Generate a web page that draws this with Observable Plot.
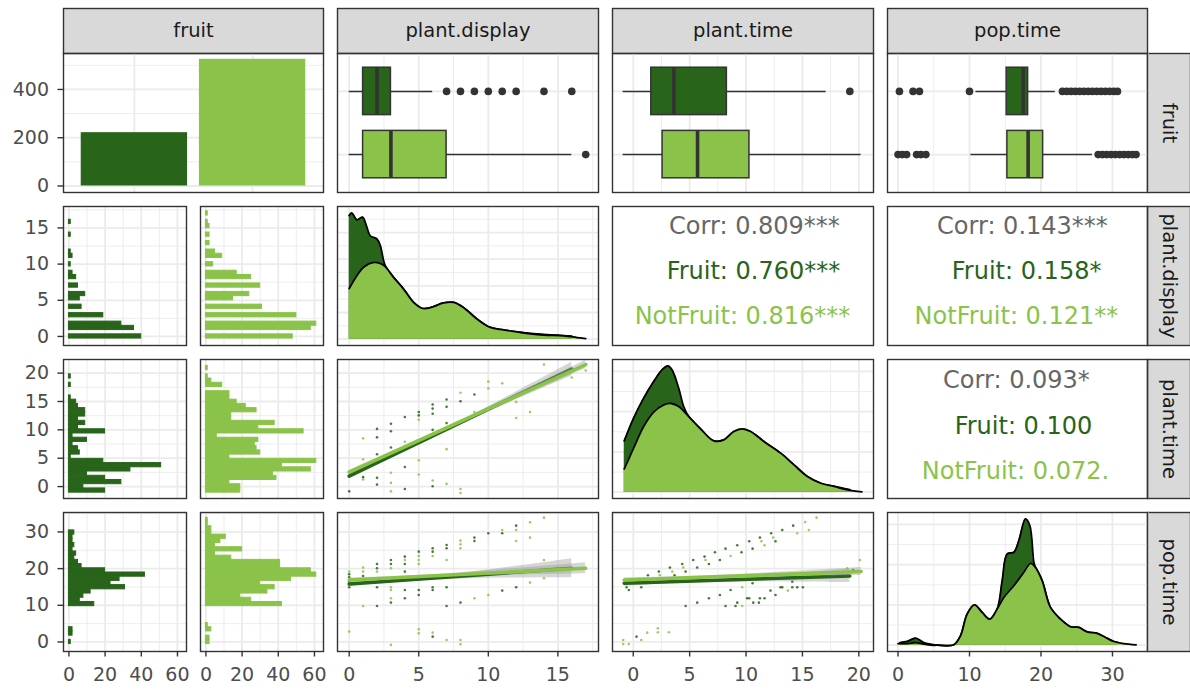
<!DOCTYPE html>
<html><head><meta charset="utf-8">
<script src="https://cdn.jsdelivr.net/npm/d3@7"></script>
<script src="https://cdn.jsdelivr.net/npm/@observablehq/plot@0.6"></script>
<style>
body{margin:0;background:#fff;}
#chart{position:relative;width:1190px;height:689px;background:#fff;overflow:hidden;}
#chart svg{position:absolute;max-width:none;}
</style></head><body><div id="chart"></div>
<script>
// ---------------- data ----------------
const variables = ["fruit", "plant.display", "plant.time", "pop.time"];
const groups = ["Fruit", "NotFruit"];
const fruitCounts = [221, 525];

// plant.display histogram: counts per integer value
const displayValues = [0,1,2,3,4,5,6,7,8,9,10,11,12,13,14,15,16,17];
const displayCountsFruit = [40,36,29,19,7,6,9,5,4,2,1,2,1,0,1,0,1,0];
const displayCountsNotFruit = [48,58,61,50,31,15,24,30,25,17,4,9,5,2,2,2,1,1];
// plant.time histogram: 30 bins
const timeBinStart = -1.07, timeBinWidth = 0.745;
const timeCountsFruit = [20,8,29,20,10,34,51,19,1,6,5,2,10,2,20,5,9,5,9,9,5,4,1,0,0,1,0,1,0,0];
const timeCountsNotFruit = [19,19,13,39,37,58,42,61,13,30,28,27,29,6,54,29,38,14,14,28,22,17,13,13,0,9,3,1,0,1];
// pop.time histogram: 30 bins
const popBinStart = -0.574, popBinWidth = 1.148;
const popCountsFruit = [1,0,2,2,0,0,0,0,0,14,6,8,12,31,23,28,42,20,7,5,3,4,2,3,2,2,3,0,0,0];
const popCountsNotFruit = [2,2,0,3,1,0,0,0,0,42,25,19,34,38,30,47,61,58,41,41,14,5,20,5,8,11,3,3,1,1];

// boxplot stats [lower whisker, q1, median, q3, upper whisker]
const boxDisplayFruit = [0,1,2,3,6];
const boxDisplayNotFruit = [0,1,3,7,16];
const outDisplayFruit = [7,8,9,10,11,12,14,16];
const outDisplayNotFruit = [17];
const boxTimeFruit = [-0.9,1.6,3.6,8.3,17.1];
const boxTimeNotFruit = [-0.9,2.6,5.7,10.3,20.2];
const outTimeFruit = [19.2];
const outTimeNotFruit = [];
const boxPopFruit = [10.9,15.2,17.5,18.2,22.0];
const boxPopNotFruit = [10.2,15.3,18.2,20.3,27.2];
const outPopFruit = [0.2,2.1,3.0,10.0,23.0,23.6,24.2,24.8,25.4,26.0,26.6,27.2,27.8,28.4,29.0,29.6,30.2,30.7];
const outPopNotFruit = [0,0.6,1.2,2.6,3.2,3.9,28,28.6,29.2,29.8,30.4,31,31.6,32.2,32.8,33.3];

// densities
const densDisplayXFruit = [0,0.19,0.55,0.96,1.27,1.51,1.99,2.23,2.59,3.19,3.91,4.63,5.23,5.83,6.79,7.51,8.23,9.18,10.14,11.1,12.06,13.02,13.98,15.0,16.0];
const densDisplayYFruit = [.232,.237,.224,.229,.21,.194,.188,.176,.138,.116,.094,.069,.058,.059,.068,.069,.059,.038,.022,.0175,.0137,.011,.009,.0075,.0055];
const densDisplayXNotFruit = [0,0.55,1.03,1.75,2.23,2.59,3.19,3.91,4.63,5.23,5.83,6.79,7.51,8.23,9.18,10.14,11.1,12.06,13.02,13.98,15.42,16.38,17.0];
const densDisplayYNotFruit = [.095,.119,.135,.144,.142,.136,.116,.094,.069,.058,.059,.068,.069,.059,.038,.022,.0175,.0137,.01,.0076,.0062,.0031,.0012];
const densTimeXFruit = [-0.8,0.03,0.92,1.81,2.55,3.08,3.44,4.03,4.47,4.92,5.96,7.14,8.03,8.92,9.66,10.4,11.58,13.07,14.25,15.44,16.62,17.81,19.2];
const densTimeYFruit = [.0637,.092,.1168,.1375,.152,.157,.152,.1292,.1064,.094,.0787,.0637,.065,.0754,.0787,.0754,.063,.0485,.0339,.0195,.0111,.0071,.0031];
const densTimeXNotFruit = [-0.8,0.03,0.92,1.81,2.70,3.38,4.03,4.92,5.96,7.14,8.03,8.92,9.66,10.4,11.58,13.07,14.25,15.44,16.62,17.81,18.99,20.27];
const densTimeYNotFruit = [.029,.0546,.0816,.0994,.1085,.1102,.1064,.094,.0787,.0637,.065,.0754,.0787,.0754,.063,.0485,.0339,.0195,.0111,.0071,.0028,.0003];
const densPopXFruit = [0.26,1.28,2.45,3.61,4.55,5.48,7.81,8.74,9.67,10.7,11.77,12.84,13.87,14.57,15.27,16.2,16.9,17.83,18.44,19.0,19.23,20.16,21.33,22.73,24.13,25.29,26.46,27.86,29.02,30.19,30.8];
const densPopYFruit = [.0033,.0046,.0088,.0033,.0013,0,.0005,.0116,.0386,.0502,.0407,.0323,.0449,.0802,.1134,.1154,.13,.157,.1487,.103,.0967,.0802,.0469,.0323,.0229,.022,.0166,.0146,.0096,.0046,.0031];
const densPopXNotFruit = [0,1.28,2.45,3.61,4.55,5.48,7.81,8.74,9.67,10.7,11.77,12.84,13.87,14.8,16.2,17.6,18.53,19.23,20.16,21.33,22.73,24.13,25.29,26.46,27.86,29.02,30.19,31.58,33.31];
const densPopYNotFruit = [.002,.002,.0033,.0013,0,0,.0005,.0116,.0386,.0502,.0407,.0323,.0449,.0593,.0739,.0906,.1017,.0967,.0802,.0469,.0323,.0229,.022,.0166,.0146,.0096,.0046,.002,.0005];

// scatter points [x, y, group index]
const scatterDisplayTime = [[0,-0.84,0],[1,1.66,0],[1,1.24,1],[1,4.82,1],[1,8.5,1],[2,10.17,0],[2,8.68,0],[2,5.71,0],[2,1.54,0],[2,0.35,0],[3,11.07,0],[3,9.76,0],[3,6.9,0],[3,2.43,1],[3,0.65,1],[3,-0.84,1],[4,12.26,0],[4,7.91,1],[4,3.45,0],[4,-0.42,0],[5,13.15,0],[5,12.55,0],[5,11.78,1],[5,4.64,1],[5,2.14,1],[6,14.46,0],[6,13.75,0],[6,12.85,0],[6,9.99,0],[6,1.06,1],[6,0.05,0],[7,15.35,0],[7,14.05,0],[7,11.19,0],[7,6.6,1],[7,0.47,1],[8,16.54,1],[8,15.05,0],[8,-0.42,1],[8,-1.14,1],[9,16.24,0],[9,13.15,1],[10,18.5,1],[10,17.31,1],[11,18.2,1],[12,14.93,1],[12,12.08,1],[13,13.15,1],[14,21.5,1],[16,19.22,1],[17,20.47,1]];
const scatterDisplayPop = [[0,19.18,1],[0,18.45,0],[0,17.64,0],[0,16.45,0],[0,14.9,0],[0,2.82,1],[1,20.27,1],[1,19.18,1],[1,18,0],[1,9.81,1],[2,21.27,0],[2,20.09,0],[2,19.18,1],[2,14.9,0],[2,9.81,0],[3,22.36,0],[3,21.27,0],[3,20.09,1],[3,14.9,1],[3,14.18,1],[3,11.9,1],[3,10.73,0],[3,-0.8,1],[4,23.27,0],[4,22.36,1],[4,21.27,0],[4,19.18,0],[4,14.18,0],[4,11.9,0],[5,24.63,0],[5,23.45,1],[5,22.36,1],[5,21.27,1],[5,14.18,0],[5,12.8,0],[5,3.46,1],[5,2.36,1],[6,25.54,0],[6,24.63,0],[6,23.45,1],[6,14.9,0],[6,14.18,0],[6,2.55,1],[6,1.45,0],[7,26.45,0],[7,25.54,0],[7,22.36,1],[7,14.9,0],[7,9.81,0],[7,0.54,1],[8,27.63,1],[8,26.63,1],[8,25.54,1],[8,10.73,0],[8,0.54,1],[8,-0.64,1],[9,28.45,0],[9,27.54,0],[9,11.9,1],[10,29.63,0],[10,12.8,1],[11,30.54,1],[11,29.63,0],[11,14,0],[12,31.72,0],[12,30.54,1],[12,27.54,1],[12,14.9,0],[13,32.63,1],[13,28.45,1],[13,16.18,1],[14,33.9,1],[14,22.36,1],[14,17.36,1]];
const scatterTimePop = [[-0.89,0.54,1],[-0.89,-0.55,1],[-0.39,-0.55,1],[-0.59,14.9,0],[-0.39,14.18,0],[0.71,14.9,0],[0.29,1.45,0],[0.71,0.54,1],[1.24,2.54,1],[2.18,3.72,1],[2.18,2.63,1],[3.16,2.63,1],[1.3,18.18,0],[2.27,19.18,0],[2.36,18.18,1],[3.25,20.27,0],[3.46,19.18,1],[3.66,18.18,0],[4.34,21.27,0],[4.43,20.27,1],[4.64,19.18,0],[4.64,9.81,0],[5.32,22.36,0],[5.67,20.27,0],[5.67,10.72,0],[6.32,23.27,0],[6.41,22.36,1],[6.71,11.9,0],[6.71,21.27,0],[7.24,24.45,0],[7.68,22.36,0],[7.68,12.81,0],[8.18,25.45,0],[8.18,9.81,0],[8.63,23.45,1],[8.63,14.18,0],[9.22,26.36,0],[9.22,10.72,0],[9.07,9.81,0],[9.6,24.45,0],[9.66,9.81,1],[9.66,14.9,1],[10.1,11.9,0],[10.28,27.45,0],[10.28,11.9,0],[10.58,25.45,0],[10.58,16.0,0],[10.64,10.72,0],[11.14,10.72,0],[11.23,28.45,0],[11.37,27.45,1],[11.23,11.9,0],[11.64,26.36,1],[11.64,11.9,0],[12.17,14.0,0],[12.23,29.63,0],[12.41,28.45,1],[12.61,27.45,0],[12.61,12.81,0],[13.21,30.54,0],[13.06,14.9,0],[13.21,14.9,0],[13.71,14.0,1],[14.1,14.9,0],[14.18,31.72,0],[14.1,16.45,0],[14.54,29.63,1],[14.54,14.9,0],[15.04,14.9,0],[15.24,32.72,1],[15.57,30.54,1],[16.25,33.9,1],[20.09,22.36,1],[18.97,20.09,1],[19.5,19.63,0]];

// linear fits: [x0, y0, x1, y1]; confidence half-widths at sample x
const fitDisplayTimeFruit = [0,1.84,16,20.7];
const fitDisplayTimeNotFruit = [0,2.55,17,21.5];
const bandDisplayTimeXFruit = [0,4,8,12,16], bandDisplayTimeHFruit = [0.45,0.25,0.3,0.7,1.2];
const bandDisplayTimeXNotFruit = [0,4,8,12,17], bandDisplayTimeHNotFruit = [0.3,0.18,0.2,0.4,0.75];
const fitDisplayPopFruit = [0,15.8,16,20.1];
const fitDisplayPopNotFruit = [0,16.9,17,20.1];
const bandDisplayPopXFruit = [0,4,8,12,16], bandDisplayPopHFruit = [0.7,0.45,0.8,1.6,2.6];
const bandDisplayPopXNotFruit = [0,4,8,12,17], bandDisplayPopHNotFruit = [0.5,0.3,0.5,0.9,1.5];
const fitTimePopFruit = [-0.8,16.0,19.2,18.0];
const fitTimePopNotFruit = [-0.8,16.9,20.2,19.2];
const bandTimePopXFruit = [-0.8,4,9,14,19.2], bandTimePopHFruit = [0.9,0.5,0.6,1.1,1.8];
const bandTimePopXNotFruit = [-0.8,4,9,14,20.2], bandTimePopHNotFruit = [0.6,0.35,0.4,0.7,1.1];

// correlation texts
const corrDisplayTime = ["Corr: 0.809***", "Fruit: 0.760***", "NotFruit: 0.816***"];
const corrDisplayPop = ["Corr: 0.143***", "Fruit: 0.158*", "NotFruit: 0.121**"];
const corrTimePop = ["Corr: 0.093*", "Fruit: 0.100", "NotFruit: 0.072."];

// tick labels
const ticksCount = [0,200,400];
const ticksHist = [0,20,40,60];
const ticksDisplay = [0,5,10,15];
const ticksTime = [0,5,10,15,20];
const ticksPop = [0,10,20,30];

// ---------------- styling / layout ----------------
const FONT = "'DejaVu Sans', 'Liberation Sans', sans-serif";
const COL = ["#28641a", "#8bc34a"];
const GRID = "#ebebeb", BORDER = "#333333", AXT = "#4d4d4d";
const colX = [[63,323],[337,598],[612,873],[887,1147]];
const rowY = [[53,192],[206,345],[359,498],[512,651]];
const subX = [[63,186],[200,323]];
const chart = document.getElementById("chart");

const dom = {
  count: [-27, 549], hist: [-3, 65], cat: [0.4, 2.6],
  display: [-0.84, 17.92], time: [-1.84, 21.3], pop: [-1.47, 34.9],
  rowDisplay: [-1.25, 17.96], rowTime: [-2.1, 22.4], rowPop: [-2.6, 35.3]
};
const gridSpec = {
  count: [[0,200,400],[100,300,500]],
  hist: [[0,20,40,60],[10,30,50]],
  display: [[0,5,10,15],[2.5,7.5,12.5,17.5]],
  time: [[0,5,10,15,20],[2.5,7.5,12.5,17.5]],
  pop: [[0,10,20,30],[5,15,25,35]],
  cat: [[1,2],[]],
  dens1: [[0,0.05,0.1,0.15,0.2],[0.025,0.075,0.125,0.175,0.225]],
  dens2: [[0,0.05,0.1,0.15],[0.025,0.075,0.125]]
};

function draw({x0, x1, y0, y1, xd, yd, yrev = false, ml = 0, mb = 0, marks}) {
  const svg = Plot.plot({
    width: x1 - x0 + ml, height: y1 - y0 + mb,
    marginLeft: ml, marginRight: 0, marginTop: 0, marginBottom: mb,
    x: {domain: xd, axis: null},
    y: {domain: yd, reverse: yrev, axis: null},
    style: {fontFamily: FONT, fontSize: "19px", background: "transparent", overflow: "visible", color: AXT},
    marks
  });
  svg.style.left = (x0 - ml) + "px";
  svg.style.top = y0 + "px";
  chart.appendChild(svg);
}
function grid(xs, ys) {
  const m = [];
  if (xs) m.push(Plot.ruleX(xs[1], {stroke: GRID, strokeWidth: 0.9}));
  if (ys) m.push(Plot.ruleY(ys[1], {stroke: GRID, strokeWidth: 0.9}));
  if (xs) m.push(Plot.ruleX(xs[0], {stroke: GRID, strokeWidth: 1.8}));
  if (ys) m.push(Plot.ruleY(ys[0], {stroke: GRID, strokeWidth: 1.8}));
  return m;
}
const frame = () => Plot.frame({stroke: BORDER, strokeWidth: 1.4});
const axisL = (ticks) => Plot.axisY({ticks, anchor: "left", tickSize: 5.5, tickPadding: 9, stroke: BORDER, fill: AXT, strokeWidth: 1.4, label: null, tickFormat: d => String(d)});
const axisB = (ticks) => Plot.axisX({ticks, anchor: "bottom", tickSize: 5.5, tickPadding: 10, stroke: BORDER, fill: AXT, strokeWidth: 1.4, label: null, tickFormat: d => String(d)});

// strips
function strip(x0, x1, y0, y1, label, rotate) {
  draw({x0, x1, y0, y1, xd: [0,1], yd: [0,1], marks: [
    Plot.frame({fill: "#d9d9d9", stroke: BORDER, strokeWidth: 1.4}),
    Plot.text([label], {frameAnchor: "middle", text: d => d, fill: "#1a1a1a", fontSize: 19.5, rotate: rotate ? 90 : 0})
  ]});
}
variables.forEach((v, i) => {
  strip(colX[i][0], colX[i][1], 8, 53, v, false);
  strip(1147, 1190, rowY[i][0], rowY[i][1], v, true);
});

// ---- row 1 col 1: bars
const barRows = groups.map((g, i) => ({g, i, n: fruitCounts[i]}));
draw({x0: colX[0][0], x1: colX[0][1], y0: rowY[0][0], y1: rowY[0][1], xd: dom.cat, yd: dom.count, ml: 63, marks: [
  ...grid(gridSpec.cat, gridSpec.count),
  Plot.rectY(barRows, {x1: d => d.i + 0.55, x2: d => d.i + 1.45, y1: 0, y2: "n", fill: d => COL[d.i]}),
  frame(), axisL(ticksCount)
]});

// ---- row 1 boxplots
function boxMarks(stats, outs) {
  const m = [];
  stats.forEach((s, i) => {
    const y = i + 1;
    m.push(Plot.ruleY([s], {y: y, x1: s[0], x2: s[4], stroke: BORDER, strokeWidth: 1.5}));
    m.push(Plot.rect([s], {x1: s[1], x2: s[3], y1: y - 0.375, y2: y + 0.375, fill: COL[i], stroke: BORDER, strokeWidth: 1.5}));
    m.push(Plot.ruleX([s], {x: s[2], y1: y - 0.375, y2: y + 0.375, stroke: BORDER, strokeWidth: 3.6}));
    m.push(Plot.dot(outs[i], {x: d => d, y: y, r: 3.8, fill: BORDER, stroke: null}));
  });
  return m;
}
const boxSets = [
  [[boxDisplayFruit, boxDisplayNotFruit], [outDisplayFruit, outDisplayNotFruit], "display"],
  [[boxTimeFruit, boxTimeNotFruit], [outTimeFruit, outTimeNotFruit], "time"],
  [[boxPopFruit, boxPopNotFruit], [outPopFruit, outPopNotFruit], "pop"]
];
boxSets.forEach(([st, outs, key], k) => {
  const c = k + 1;
  draw({x0: colX[c][0], x1: colX[c][1], y0: rowY[0][0], y1: rowY[0][1], xd: dom[key], yd: dom.cat, yrev: true, marks: [
    ...grid(gridSpec[key], gridSpec.cat), ...boxMarks(st, outs), frame()
  ]});
});

// ---- column 1 histograms
const bwDisplay = 17 / 29;
function displayBins(counts) {
  return displayValues.map((v, i) => {
    const k = Math.round(v / bwDisplay);
    return {y1: (k - 0.5) * bwDisplay, y2: (k + 0.5) * bwDisplay, n: counts[i]};
  }).filter(d => d.n > 0);
}
function regularBins(counts, start, w) {
  return counts.map((n, i) => ({y1: start + i * w, y2: start + (i + 1) * w, n})).filter(d => d.n > 0);
}
const histSets = [
  [displayBins(displayCountsFruit), displayBins(displayCountsNotFruit), "rowDisplay", "display", ticksDisplay],
  [regularBins(timeCountsFruit, timeBinStart, timeBinWidth), regularBins(timeCountsNotFruit, timeBinStart, timeBinWidth), "rowTime", "time", ticksTime],
  [regularBins(popCountsFruit, popBinStart, popBinWidth), regularBins(popCountsNotFruit, popBinStart, popBinWidth), "rowPop", "pop", ticksPop]
];
histSets.forEach(([hf, hn, yk, gk, ticks], k) => {
  const r = k + 1;
  [hf, hn].forEach((rows, s) => {
    const marks = [...grid(gridSpec.hist, gridSpec[gk]),
      Plot.rectX(rows, {x1: 0, x2: "n", y1: "y1", y2: "y2", fill: COL[s], stroke: COL[s], strokeWidth: 1}), frame()];
    if (s === 0) marks.push(axisL(ticks));
    if (r === 3) marks.push(axisB(ticksHist));
    draw({x0: subX[s][0], x1: subX[s][1], y0: rowY[r][0], y1: rowY[r][1], xd: dom.hist, yd: dom[yk],
      ml: s === 0 ? 63 : 0, mb: r === 3 ? 38 : 0, marks});
  });
});

// ---- diagonal densities
function densMarks(xsF, ysF, xsN, ysN) {
  const m = [];
  [[xsF, ysF], [xsN, ysN]].forEach(([xs, ys], i) => {
    const rows = xs.map((x, j) => ({x, y: ys[j]}));
    m.push(Plot.areaY(rows, {x: "x", y: "y", fill: COL[i], curve: "catmull-rom"}));
    m.push(Plot.lineY(rows, {x: "x", y: "y", stroke: "#000", strokeWidth: 1.8, curve: "catmull-rom"}));
  });
  return m;
}
const dDom1 = [-0.05 * 0.237, 1.05 * 0.237], dDom2 = [-0.05 * 0.157, 1.05 * 0.157];
draw({x0: colX[1][0], x1: colX[1][1], y0: rowY[1][0], y1: rowY[1][1], xd: dom.display, yd: dDom1, marks: [
  ...grid(gridSpec.display, gridSpec.dens1), ...densMarks(densDisplayXFruit, densDisplayYFruit, densDisplayXNotFruit, densDisplayYNotFruit), frame()]});
draw({x0: colX[2][0], x1: colX[2][1], y0: rowY[2][0], y1: rowY[2][1], xd: dom.time, yd: dDom2, marks: [
  ...grid(gridSpec.time, gridSpec.dens2), ...densMarks(densTimeXFruit, densTimeYFruit, densTimeXNotFruit, densTimeYNotFruit), frame()]});
draw({x0: colX[3][0], x1: colX[3][1], y0: rowY[3][0], y1: rowY[3][1], xd: dom.pop, yd: dDom2, mb: 38, marks: [
  ...grid(gridSpec.pop, gridSpec.dens2), ...densMarks(densPopXFruit, densPopYFruit, densPopXNotFruit, densPopYNotFruit), frame(), axisB(ticksPop)]});

// ---- scatter panels
function scatterMarks(pts, fits, bandXs, bandHs) {
  const m = [];
  [0, 1].forEach(g => {
    m.push(Plot.dot(pts.filter(p => p[2] === g), {x: d => d[0], y: d => d[1], r: 1.3, fill: COL[g], fillOpacity: 0.85, stroke: null}));
  });
  [0, 1].forEach(g => {
    const [a, b, c, d] = fits[g];
    const band = bandXs[g].map((x, j) => {
      const yc = b + (d - b) * (x - a) / (c - a);
      return {x, lo: yc - bandHs[g][j], hi: yc + bandHs[g][j]};
    });
    m.push(Plot.areaY(band, {x: "x", y1: "lo", y2: "hi", fill: "#999999", fillOpacity: 0.4, curve: "catmull-rom"}));
    m.push(Plot.line([[a, b], [c, d]], {x: p => p[0], y: p => p[1], stroke: COL[g], strokeWidth: 3.6}));
  });
  return m;
}
draw({x0: colX[1][0], x1: colX[1][1], y0: rowY[2][0], y1: rowY[2][1], xd: dom.display, yd: dom.rowTime, marks: [
  ...grid(gridSpec.display, gridSpec.time),
  ...scatterMarks(scatterDisplayTime, [fitDisplayTimeFruit, fitDisplayTimeNotFruit], [bandDisplayTimeXFruit, bandDisplayTimeXNotFruit], [bandDisplayTimeHFruit, bandDisplayTimeHNotFruit]),
  frame()]});
draw({x0: colX[1][0], x1: colX[1][1], y0: rowY[3][0], y1: rowY[3][1], xd: dom.display, yd: dom.rowPop, mb: 38, marks: [
  ...grid(gridSpec.display, gridSpec.pop),
  ...scatterMarks(scatterDisplayPop, [fitDisplayPopFruit, fitDisplayPopNotFruit], [bandDisplayPopXFruit, bandDisplayPopXNotFruit], [bandDisplayPopHFruit, bandDisplayPopHNotFruit]),
  frame(), axisB(ticksDisplay)]});
draw({x0: colX[2][0], x1: colX[2][1], y0: rowY[3][0], y1: rowY[3][1], xd: dom.time, yd: dom.rowPop, mb: 38, marks: [
  ...grid(gridSpec.time, gridSpec.pop),
  ...scatterMarks(scatterTimePop, [fitTimePopFruit, fitTimePopNotFruit], [bandTimePopXFruit, bandTimePopXNotFruit], [bandTimePopHFruit, bandTimePopHNotFruit]),
  frame(), axisB(ticksTime)]});

// ---- correlation text panels
const corrColors = ["#666666", COL[0], COL[1]];
function corrPanel(c, r, labels, cx, cy) {
  draw({x0: colX[c][0], x1: colX[c][1], y0: rowY[r][0], y1: rowY[r][1], xd: [0, 1], yd: [0, 1], yrev: true, marks: [
    ...labels.map((t, i) => Plot.text([t], {x: cx[i], y: cy[i], text: d => d, fill: corrColors[i], fontSize: 24})),
    frame()]});
}
corrPanel(2, 1, corrDisplayTime, [0.544, 0.54, 0.498], [0.145, 0.468, 0.79]);
corrPanel(3, 1, corrDisplayPop, [0.519, 0.535, 0.496], [0.145, 0.468, 0.79]);
corrPanel(3, 2, corrTimePop, [0.496, 0.523, 0.492], [0.152, 0.478, 0.804]);
</script></body></html>
